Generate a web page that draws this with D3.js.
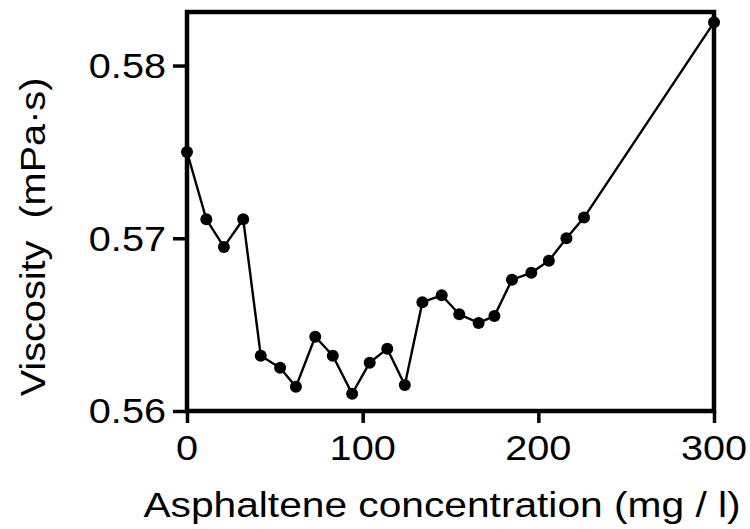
<!DOCTYPE html>
<html><head><meta charset="utf-8">
<script src="https://cdn.jsdelivr.net/npm/d3@7"></script>
<style>
html,body{margin:0;padding:0;background:#fff;}
text{font-family:"Liberation Sans",Arial,sans-serif;fill:#000;white-space:pre;}
</style></head>
<body>
<svg id="c" width="750" height="529"></svg>
<script>
const concentration = [0, 11, 21, 32, 42, 53, 62, 73, 83, 94, 104, 114, 124, 134, 145, 155, 166, 175, 185, 196, 206, 216, 226, 300];
const viscosity = [0.5750, 0.5711, 0.5695, 0.5711, 0.5632, 0.5625, 0.5614, 0.5643, 0.5632, 0.5610, 0.5628, 0.5636, 0.5615, 0.5663, 0.5667, 0.5656, 0.5651, 0.5655, 0.5676, 0.5680, 0.5687, 0.5700, 0.5712, 0.5825];
const xTicks = [0, 100, 200, 300];
const yTicks = [0.56, 0.57, 0.58];
const yTickLabels = ["0.56", "0.57", "0.58"];
const xTitle = "Asphaltene concentration (mg / l)";
const yTitle = "Viscosity  (mPa\u00b7s)";

const svg = d3.select("#c");
const x = d3.scaleLinear().domain([0, 300]).range([187, 714]);
const y = d3.scaleLinear().domain([0.56, 0.5831]).range([411, 12]);
const SX = 1.15, FS = 34.5;

// axes
const gx = svg.append("g").attr("transform", "translate(0,411)")
  .call(d3.axisBottom(x).tickValues(xTicks).tickSize(12).tickFormat(""));
const gy = svg.append("g").attr("transform", "translate(187,0)")
  .call(d3.axisLeft(y).tickValues(yTicks).tickSize(14).tickFormat(""));
[gx, gy].forEach(g => {
  g.select(".domain").remove();
  g.selectAll(".tick line").attr("stroke", "#000").attr("stroke-width", 3.5);
});

// frame
svg.append("rect").attr("x", x(0)).attr("y", y(0.5831))
  .attr("width", x(300) - x(0)).attr("height", y(0.56) - y(0.5831))
  .attr("fill", "none").attr("stroke", "#000").attr("stroke-width", 4.5);

// tick labels
svg.selectAll(".xl").data(xTicks).enter().append("text")
  .attr("transform", d => `translate(${x(d)},460) scale(${SX},1)`)
  .attr("text-anchor", "middle").attr("font-size", FS).text(d => d);
svg.selectAll(".yl").data(yTicks).enter().append("text")
  .attr("transform", d => `translate(166,${y(d) + 12.3}) scale(${SX},1)`)
  .attr("text-anchor", "end").attr("font-size", FS).text((d, i) => yTickLabels[i]);

// titles
svg.append("text").attr("transform", `translate(442,517) scale(1.18,1)`)
  .attr("text-anchor", "middle").attr("font-size", FS).text(xTitle);
svg.append("text").attr("transform", `translate(45,237) rotate(-90) scale(${SX},1)`)
  .attr("text-anchor", "middle").attr("font-size", FS).text(yTitle);

// line + markers
const pts = concentration.map((c, i) => [c, viscosity[i]]);
svg.append("path").datum(pts)
  .attr("d", d3.line().x(d => x(d[0])).y(d => y(d[1])))
  .attr("fill", "none").attr("stroke", "#000").attr("stroke-width", 2.4);
svg.selectAll(".pt").data(pts).enter().append("circle")
  .attr("cx", d => x(d[0])).attr("cy", d => y(d[1])).attr("r", 6).attr("fill", "#000");
</script>
</body></html>
